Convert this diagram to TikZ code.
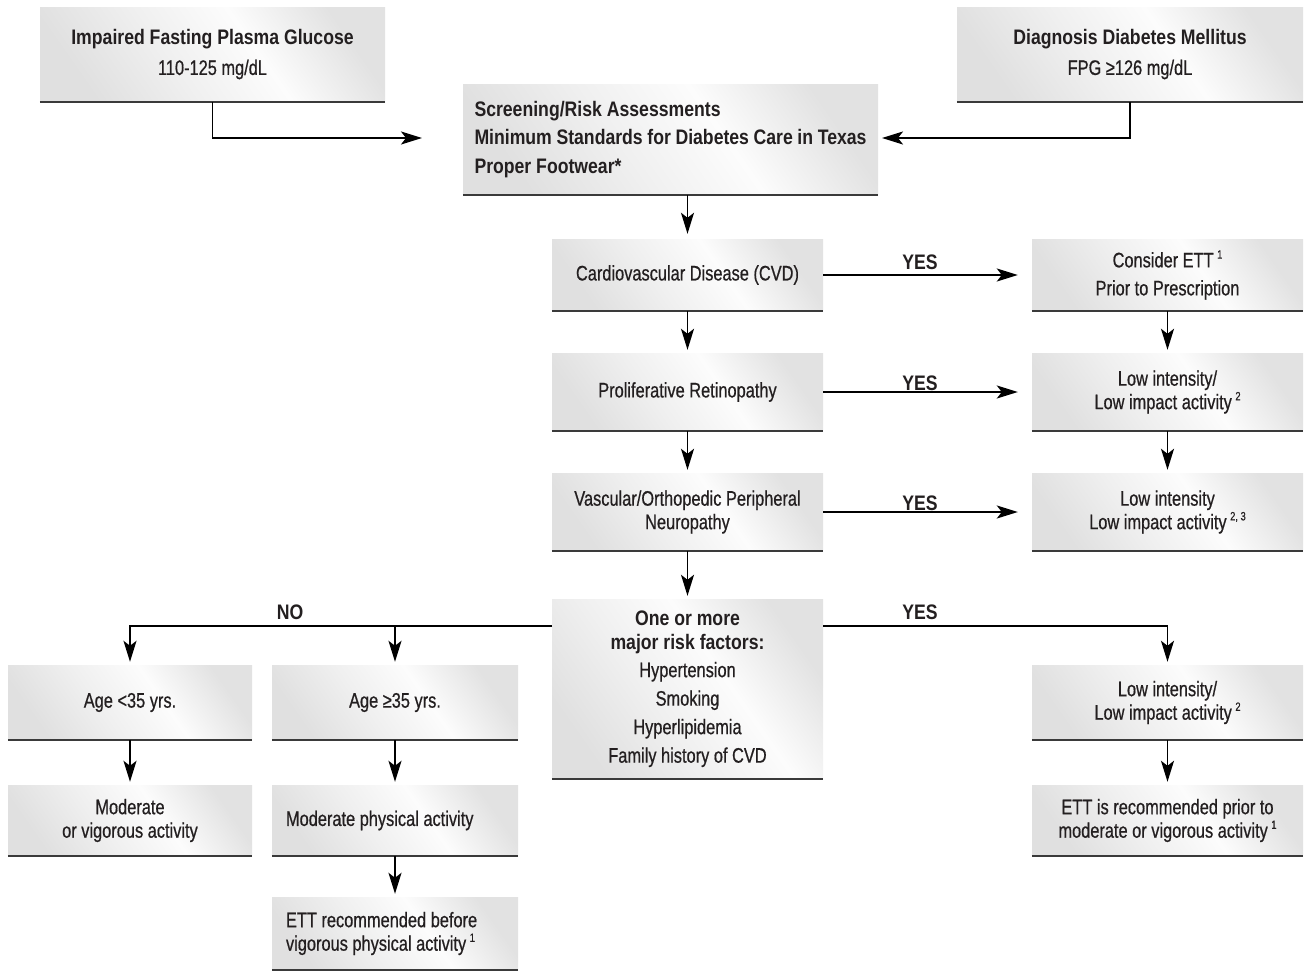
\documentclass[tikz,border=0pt]{standalone}
\usepackage{fontspec}
\setmainfont{Liberation Sans}[UprightFeatures={FakeStretch=0.78, FakeBold=0.6}, BoldFeatures={FakeStretch=0.84}]
\usetikzlibrary{arrows.meta,calc}
\definecolor{gA}{HTML}{E0E0E0}
\definecolor{gB}{HTML}{FCFCFC}
\definecolor{gC}{HTML}{E2E2E2}
\definecolor{txt}{HTML}{231F20}
\definecolor{bcol}{HTML}{3A3A3A}
\pgfdeclarehorizontalshading{boxshade}{100bp}{color(0bp)=(gA); color(25bp)=(gA); color(42bp)=(gA!45!gB); color(58bp)=(gB); color(75bp)=(gC); color(100bp)=(gC)}
\newcommand\sups[1]{\,\raisebox{0.42em}{\fontsize{12}{12}\selectfont #1}}
\tikzset{
  box/.style={shading=boxshade, shading angle=35, inner sep=0pt, align=center,
    font=\fontsize{21}{23.5}\selectfont, text=txt},
  arr/.style={line width=1.8pt, draw=black, -{Stealth[length=21pt,width=13pt,inset=5pt]}},
  bline/.style={line width=1.6pt, draw=bcol},
  lbl/.style={font=\bfseries\fontsize{21}{20}\selectfont, text=txt}
}
\begin{document}
\begin{tikzpicture}[x=1pt,y=-1pt]
\useasboundingbox (0,0) rectangle (1309,977);

% top row
\node[box, minimum width=345pt, minimum height=95pt] (imp) at (212.5,54.5)
  {{\bfseries Impaired Fasting Plasma Glucose}\\[6.5pt]110-125 mg/dL};
\node[box, minimum width=346pt, minimum height=95pt] (diag) at (1130,54.5)
  {{\bfseries Diagnosis Diabetes Mellitus}\\[6.5pt]FPG ≥126 mg/dL};
\node[box, minimum width=415pt, minimum height=111pt, text width=392pt, align=flush left] (scr) at (670.5,139.5)
  {{\bfseries Screening/Risk Assessments}\\[5pt]{\bfseries Minimum Standards for Diabetes Care in Texas}\\[5pt]{\bfseries Proper Footwear*}};

% centre column
\node[box, minimum width=271pt, minimum height=72pt] (cvd) at (687.5,275) {Cardiovascular Disease (CVD)};
\node[box, minimum width=271pt, minimum height=78pt] (pro) at (687.5,392) {Proliferative Retinopathy};
\node[box, minimum width=271pt, minimum height=78pt] (vas) at (687.5,512) {Vascular/Orthopedic Peripheral\\Neuropathy};
\node[box, minimum width=271pt, minimum height=180pt] (risk) at (687.5,689)
  {{\bfseries One or more}\\{\bfseries major risk factors:}\\[4.5pt]Hypertension\\[5pt]Smoking\\[5pt]Hyperlipidemia\\[5pt]Family history of CVD};

% right column
\node[box, minimum width=271pt, minimum height=72pt] (ett1) at (1167.5,275) {Consider ETT\sups{1}\\[4.5pt]Prior to Prescription};
\node[box, minimum width=271pt, minimum height=78pt] (low1) at (1167.5,392) {Low intensity/\\Low impact activity\sups{2}};
\node[box, minimum width=271pt, minimum height=78pt] (low2) at (1167.5,512) {Low intensity\\Low impact activity\sups{2, 3}};
\node[box, minimum width=271pt, minimum height=75pt] (low3) at (1167.5,702.5) {Low intensity/\\Low impact activity\sups{2}};
\node[box, minimum width=271pt, minimum height=71pt] (ett3) at (1167.5,820.5) {ETT is recommended prior to\\moderate or vigorous activity\sups{1}};

% left columns
\node[box, minimum width=244pt, minimum height=75pt] (age1) at (130,702.5) {Age <35 yrs.};
\node[box, minimum width=246pt, minimum height=75pt] (age2) at (395,702.5) {Age ≥35 yrs.};
\node[box, minimum width=244pt, minimum height=71pt] (mod1) at (130,820.5) {Moderate\\or vigorous activity};
\node[box, minimum width=246pt, minimum height=71pt, text width=218pt, align=flush left] (mod2) at (395,820.5) {Moderate physical activity};
\node[box, minimum width=246pt, minimum height=73pt, text width=218pt, align=flush left] (ett2) at (395,933.5) {ETT recommended before\\vigorous physical activity\sups{1}};

% bottom rules
\foreach \n in {imp,diag,scr,cvd,pro,vas,risk,ett1,low1,low2,low3,ett3,age1,age2,mod1,mod2,ett2}
  \draw[bline] (\n.south west) -- (\n.south east);

% labels
\node[lbl] (yes1) at (920,262) {YES};
\node[lbl] (yes2) at (920,383) {YES};
\node[lbl] (yes3) at (920,503) {YES};
\node[lbl] (yes4) at (920,612) {YES};
\node[lbl] (no1) at (290,612) {NO};

% connectors
\coordinate (tL) at (422,138);
\coordinate (tR) at (882,138);
\draw[arr] (imp.south) |- (tL);
\draw[arr] (diag.south) |- (tR);
\draw[arr, shorten >=5pt] (cvd.north |- scr.south) -- (cvd.north);
\draw[arr, shorten >=3pt] (cvd.south) -- (pro.north);
\draw[arr, shorten >=3pt] (pro.south) -- (vas.north);
\draw[arr, shorten >=3pt] (vas.south) -- (risk.north);
\draw[arr, shorten >=3pt] (ett1.south) -- (low1.north);
\draw[arr, shorten >=3pt] (low1.south) -- (low2.north);
\draw[arr, shorten >=14pt] (cvd.east) -- (ett1.west);
\draw[arr, shorten >=14pt] (pro.east) -- (low1.west);
\draw[arr, shorten >=14pt] (vas.east) -- (low2.west);

\coordinate (nL) at (552,626);
\coordinate (nR) at (823,626);
\draw[arr, shorten >=3pt] (nL) -| (age1.north);
\draw[arr, shorten >=3pt] (age2.north |- nL) -- (age2.north);
\draw[arr, shorten >=3pt] (nR) -| (low3.north);
\draw[arr, shorten >=3pt] (age1.south) -- (mod1.north);
\draw[arr, shorten >=3pt] (age2.south) -- (mod2.north);
\draw[arr, shorten >=3pt] (mod2.south) -- (ett2.north);
\draw[arr, shorten >=3pt] (low3.south) -- (ett3.north);
\end{tikzpicture}
\end{document}
